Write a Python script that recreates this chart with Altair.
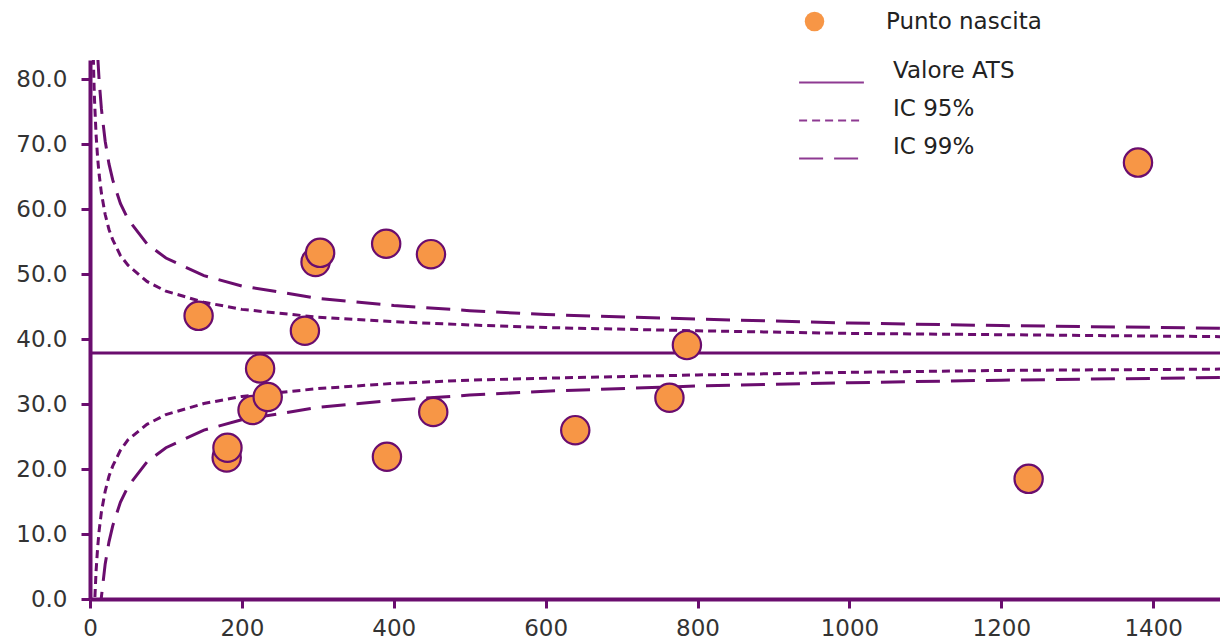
import altair as alt
import pandas as pd

PURPLE = "#6A0D6E"
ORANGE = "#F79646"

# Punti nascita (volume parti, valore %)
pts_x = [143, 180, 181, 214, 224, 234, 283, 297, 303, 390, 391, 449, 452, 639, 763, 786, 1236, 1380]
pts_y = [43.6, 21.8, 23.3, 29.1, 35.5, 31.1, 41.3, 51.9, 53.3, 54.7, 21.9, 53.1, 28.8, 26.0, 31.0, 39.1, 18.5, 67.2]

# Valore ATS
ats_value = 37.9
x_max = 1488

# Funnel limits
lim_x = [4, 5, 6, 8, 10, 12, 15, 20, 25, 30, 40, 50, 75, 100, 150, 200, 300, 400, 500, 600, 800, 1000, 1200, 1488]
up95 = [85.5, 80.4, 76.7, 71.5, 68.0, 65.4, 62.5, 59.2, 56.9, 55.3, 52.9, 51.4, 48.9, 47.4, 45.7, 44.6, 43.4, 42.7, 42.2, 41.8, 41.3, 40.9, 40.7, 40.4]
lo95 = [-9.7, -4.6, -0.9, 4.3, 7.8, 10.5, 13.4, 16.6, 18.9, 20.5, 22.9, 24.5, 26.9, 28.4, 30.1, 31.2, 32.4, 33.2, 33.7, 34.0, 34.5, 34.9, 35.2, 35.4]
up99 = [110.7, 103.0, 97.3, 89.4, 83.9, 79.9, 75.5, 70.5, 67.0, 64.5, 60.9, 58.5, 54.7, 52.5, 49.8, 48.2, 46.3, 45.2, 44.4, 43.8, 43.1, 42.5, 42.1, 41.7]
lo99 = [-34.9, -27.2, -21.5, -13.6, -8.1, -4.1, 0.3, 5.4, 8.8, 11.3, 14.9, 17.3, 21.1, 23.3, 26.0, 27.6, 29.5, 30.6, 31.4, 32.0, 32.8, 33.3, 33.7, 34.1]

x_ticks = [0, 200, 400, 600, 800, 1000, 1200, 1400]
y_ticks = [0, 10, 20, 30, 40, 50, 60, 70, 80]

FONT = "DejaVu Sans"

pts = pd.DataFrame({"n": pts_x, "v": pts_y, "serie": "Punto nascita"})

rows = []
for side, vals, tipo in [("u95", up95, "IC 95%"), ("l95", lo95, "IC 95%"),
                         ("u99", up99, "IC 99%"), ("l99", lo99, "IC 99%")]:
    for xx, vv in zip(lim_x, vals):
        rows.append({"n": xx, "v": vv, "side": side, "tipo": tipo})
rows.append({"n": 0, "v": ats_value, "side": "ats", "tipo": "Valore ATS"})
rows.append({"n": x_max, "v": ats_value, "side": "ats", "tipo": "Valore ATS"})
lines = pd.DataFrame(rows)

xscale = alt.Scale(domain=[0, x_max], nice=False, zero=False)
yscale = alt.Scale(domain=[0, 83], nice=False)

xaxis = alt.Axis(values=x_ticks, format="d", title=None, grid=False, labelFlush=False,
                 domainColor=PURPLE, domainWidth=4, tickColor=PURPLE, tickWidth=3,
                 tickSize=9, labelFontSize=23, labelFont=FONT, labelColor="#333333",
                 labelPadding=9)
yaxis = alt.Axis(values=y_ticks, format=".1f", title=None, grid=False, labelFlush=False,
                 domainColor=PURPLE, domainWidth=4, tickColor=PURPLE, tickWidth=3,
                 tickSize=9, labelFontSize=23, labelFont=FONT, labelColor="#333333",
                 labelPadding=14)

line_layer = alt.Chart(lines).mark_line(color=PURPLE, strokeWidth=3, clip=True).encode(
    x=alt.X("n:Q", scale=xscale, axis=xaxis),
    y=alt.Y("v:Q", scale=yscale, axis=yaxis),
    detail="side:N",
    strokeDash=alt.StrokeDash(
        "tipo:N",
        scale=alt.Scale(domain=["Valore ATS", "IC 95%", "IC 99%"],
                        range=[[1, 0], [8, 5], [24, 11]]),
        legend=alt.Legend(title=None, orient="none", legendX=708, legendY=-11,
                          symbolType="stroke", symbolSize=4200, symbolStrokeWidth=2,
                          symbolStrokeColor="#8E3A92", labelFont=FONT, labelFontSize=23,
                          labelColor="#222222", labelOffset=28, rowPadding=-33,
                          labelBaseline="bottom"),
    ),
)

pt_layer = alt.Chart(pts).mark_circle(size=800, opacity=1, stroke=PURPLE, strokeWidth=2.2,
                                      clip=True).encode(
    x=alt.X("n:Q", scale=xscale),
    y=alt.Y("v:Q", scale=yscale),
    fill=alt.Fill("serie:N", scale=alt.Scale(domain=["Punto nascita"], range=[ORANGE]),
                  legend=alt.Legend(title=None, orient="none", legendX=713, legendY=-50,
                                    symbolType="circle", symbolSize=380, symbolStrokeWidth=0,
                                    labelFont=FONT, labelFontSize=23, labelColor="#222222",
                                    labelOffset=60)),
)

chart = alt.layer(line_layer, pt_layer).resolve_legend(fill="independent").properties(
    width=1130, height=539,
    autosize=alt.AutoSizeParams(type="none"),
    padding={"left": 90, "top": 60, "right": 0, "bottom": 44},
).configure_view(stroke=None)

chart.save("out.html", embed_options={"renderer": "svg", "actions": False})
